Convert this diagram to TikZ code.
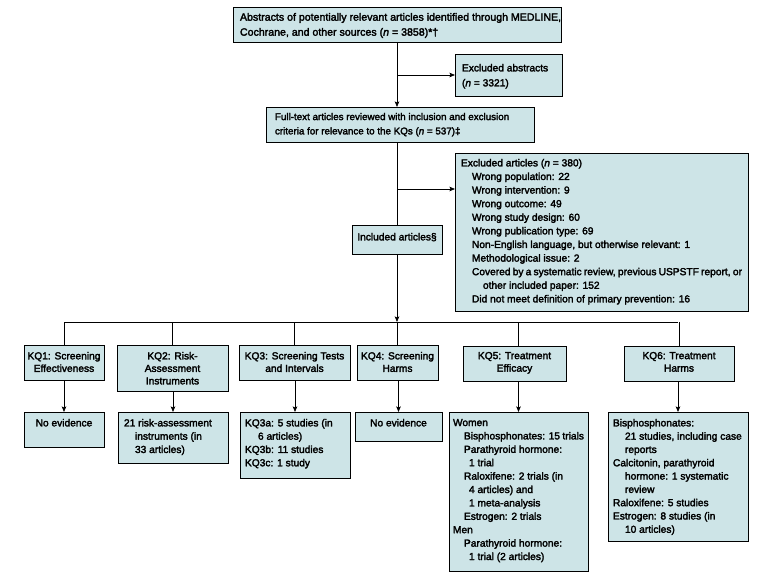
\documentclass[tikz,border=0pt]{standalone}
\usepackage{fontspec}
\setmainfont{Liberation Sans}[FakeBold=2.5]
\usetikzlibrary{arrows.meta}
\definecolor{boxfill}{RGB}{205,228,231}
\newlength\bxys \setlength\bxys{6pt}
\newcommand\fs[1]{\fontsize{10.2pt}{#1pt}\selectfont}
\newcommand\bx[7]{\node[box, inner xsep=#6pt] (#1) at (#2,#3) {\parbox[t][\dimexpr#5pt-2\bxys\relax][t]{\dimexpr#4pt-#6pt-#6pt\relax}{#7}};}
\newcommand\ia{\hspace*{11pt}}
\newcommand\ib{\hspace*{22pt}}
\tikzset{
  box/.style={draw=black, line width=0.8pt, fill=boxfill, anchor=north west, inner ysep=\bxys, outer sep=0pt},
  ln/.style={line width=0.8pt},
  arr/.style={ln, -{Stealth[length=5.5pt,width=4.5pt,inset=1pt]}}
}
\begin{document}
\begin{tikzpicture}[x=1pt,y=-1pt]
\useasboundingbox (0,0) rectangle (772,578);
% top part
\bx{A}{233}{7}{328}{35}{7}{\fontsize{10.6pt}{15pt}\selectfont \mbox{Abstracts of potentially relevant articles identified through MEDLINE,}\\Cochrane, and other sources (\textit{n} = 3858)*†}
\bx{Eabs}{455}{54}{107}{42}{7}{\fs{15}\vspace*{4pt}Excluded abstracts\\(\textit{n} = 3321)}
\bx{B}{266}{107}{268}{35}{9}{\fontsize{9.8pt}{14.3pt}\selectfont Full-text articles reviewed with inclusion and exclusion\\criteria for relevance to the KQs (\textit{n} = 537)‡}
\bx{C}{455}{153}{293}{158}{6}{\fs{13.6}Excluded articles (\textit{n} = 380)\\
\ia Wrong population: 22\\
\ia Wrong intervention: 9\\
\ia Wrong outcome: 49\\
\ia Wrong study design: 60\\
\ia Wrong publication type: 69\\
\ia Non-English language, but otherwise relevant: 1\\
\ia Methodological issue: 2\\
\ia Covered by a systematic review, previous USPSTF report, or\\
\ib other included paper: 152\\
\ia Did not meet definition of primary prevention: 16}
\bx{Inc}{352}{225}{90}{29}{4}{\fs{13}\centering\vspace*{2pt}Included articles§}
% KQ boxes
\bx{KQ1}{24}{345}{80}{35}{3}{\fs{12.5}\centering\vspace*{1pt}KQ1: Screening\\Effectiveness}
\bx{KQ2}{117}{345}{111}{46}{3}{\fs{12.5}\centering\vspace*{1pt}KQ2: Risk-\\Assessment\\Instruments}
\bx{KQ3}{239}{345}{111}{35}{3}{\fs{12.5}\centering\vspace*{1pt}KQ3: Screening Tests\\and Intervals}
\bx{KQ4}{357}{345}{81}{35}{3}{\fs{12.5}\centering\vspace*{1pt}KQ4: Screening\\Harms}
\bx{KQ5}{463}{346}{103}{35}{3}{\fs{12.5}\centering\vspace*{0pt}KQ5: Treatment\\Efficacy}
\bx{KQ6}{624}{346}{110}{35}{3}{\fs{12.5}\centering\vspace*{0pt}KQ6: Treatment\\Harms}
% result boxes
\bx{R1}{24}{412}{80}{35}{3}{\fs{13.3}\centering\vspace*{1pt}No evidence}
\bx{R2}{118}{412}{110}{51}{6}{\fs{13.3}\vspace*{1pt}21 risk-assessment\\
\ia instruments (in\\
\ia 33 articles)}
\bx{R3}{240}{412}{110}{66}{5}{\fs{13.3}\vspace*{1pt}KQ3a: 5 studies (in\\
\hspace*{13pt}6 articles)\\
KQ3b: 11 studies\\
KQ3c: 1 study}
\bx{R4}{355}{412}{87}{29}{3}{\fs{13.3}\centering\vspace*{1pt}No evidence}
\bx{R5}{449}{412}{139}{159}{4}{\fs{13.4}\vspace*{1pt}Women\\
\ia Bisphosphonates: 15 trials\\
\ia Parathyroid hormone:\\
\hspace*{16pt}1 trial\\
\ia Raloxifene: 2 trials (in\\
\hspace*{16pt}4 articles) and\\
\hspace*{16pt}1 meta-analysis\\
\ia Estrogen: 2 trials\\
Men\\
\ia Parathyroid hormone:\\
\hspace*{16pt}1 trial (2 articles)}
\bx{R6}{608}{412}{140}{129}{5}{\fs{13.3}\vspace*{1pt}Bisphosphonates:\\
\hspace*{12pt}21 studies, including case\\
\hspace*{12pt}reports\\
Calcitonin, parathyroid\\
\hspace*{12pt}hormone: 1 systematic\\
\hspace*{12pt}review\\
Raloxifene: 5 studies\\
Estrogen: 8 studies (in\\
\hspace*{12pt}10 articles)}
% connectors
\coordinate (j2) at (397,189);
\coordinate (hL) at (64,322);
\coordinate (hR) at (678,322);
\draw[arr] (A.south) -- (A.south |- B.north);
\draw[arr] (A.south |- Eabs.west) -- (Eabs.west);
\draw[ln] (B.south -| Inc.north) -- (Inc.north);
\draw[arr] (j2) -- (j2 -| C.west);
\draw[arr] (Inc.south) -- (Inc.south |- hL);
\draw[ln] (hL) -- (hR);
\foreach \k/\r in {KQ1/R1,KQ2/R2,KQ3/R3,KQ4/R4,KQ6/R6}{
  \draw[ln] (\k.north |- hL) -- (\k.north);
  \draw[arr] (\k.south) -- (\k.south -| \r.north) -- (\r.north);
}
\draw[ln] (R5.north |- hL) -- (R5.north |- KQ5.north);
\draw[arr] (R5.north |- KQ5.south) -- (R5.north);
\end{tikzpicture}
\end{document}
